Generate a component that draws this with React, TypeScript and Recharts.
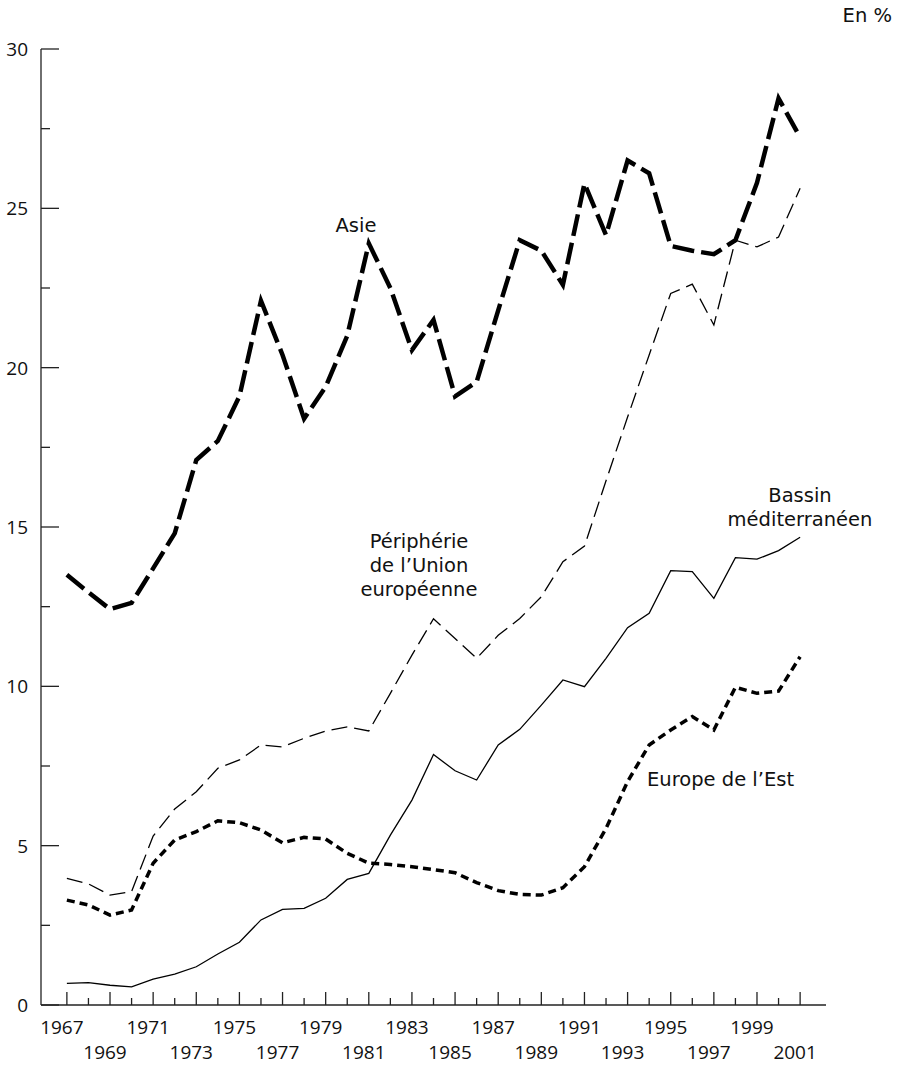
import React from 'react';
import { LineChart, Line, XAxis, YAxis } from 'recharts';

const years = [
  1967, 1968, 1969, 1970, 1971, 1972, 1973, 1974, 1975, 1976, 1977, 1978,
  1979, 1980, 1981, 1982, 1983, 1984, 1985, 1986, 1987, 1988, 1989, 1990,
  1991, 1992, 1993, 1994, 1995, 1996, 1997, 1998, 1999, 2000, 2001,
];

const asie = [
  13.5, 12.95, 12.42, 12.62, 13.7, 14.8, 17.1, 17.7, 19.1, 22.1, 20.4, 18.4,
  19.4, 21.0, 23.9, 22.5, 20.55, 21.5, 19.1, 19.55, 21.8, 24.0, 23.67, 22.6,
  25.78, 24.16, 26.5, 26.1, 23.82, 23.67, 23.56, 24.0, 25.8, 28.45, 27.23,
];

const peripherieUE = [
  3.97, 3.8, 3.45, 3.56, 5.3, 6.15, 6.69, 7.43, 7.69, 8.16, 8.1, 8.37,
  8.6, 8.73, 8.6, 9.78, 10.98, 12.12, 11.5, 10.88, 11.6, 12.13, 12.81, 13.91,
  14.4, 16.45, 18.45, 20.4, 22.33, 22.62, 21.34, 24.0, 23.79, 24.1, 25.63,
];

const bassinMed = [
  0.68, 0.7, 0.62, 0.57, 0.81, 0.97, 1.2, 1.6, 1.97, 2.67, 3.0, 3.03,
  3.35, 3.94, 4.13, 5.33, 6.43, 7.86, 7.35, 7.06, 8.16, 8.65, 9.41, 10.2,
  9.99, 10.88, 11.84, 12.29, 13.63, 13.6, 12.76, 14.04, 13.99, 14.26, 14.68,
];

const europeEst = [
  3.29, 3.14, 2.82, 2.98, 4.45, 5.18, 5.44, 5.78, 5.72, 5.49, 5.09, 5.26,
  5.21, 4.76, 4.45, 4.41, 4.34, 4.25, 4.15, 3.84, 3.59, 3.47, 3.45, 3.68,
  4.34, 5.54, 7.01, 8.16, 8.63, 9.05, 8.63, 9.97, 9.78, 9.85, 10.93,
];

const yTicks = [0, 2.5, 5, 7.5, 10, 12.5, 15, 17.5, 20, 22.5, 25, 27.5, 30];
const yLabelTicks = [0, 5, 10, 15, 20, 25, 30];
const xLabelYears = years.filter((y) => (y - 1967) % 2 === 0);

const unitLabel = 'En %';
const seriesLabels = {
  asie: ['Asie'],
  peripherie: ['Périphérie', 'de l\u2019Union', 'européenne'],
  bassin: ['Bassin', 'méditerranéen'],
  est: ['Europe de l\u2019Est'],
};

const data = years.map((year, i) => ({
  year,
  asie: asie[i],
  peripherie: peripherieUE[i],
  bassin: bassinMed[i],
  est: europeEst[i],
}));

const W = 905;
const H = 1067;
const M_TOP = 49;
const M_RIGHT = 79;
const Y_W = 41;
const X_H = 62;
const AXIS_X = Y_W;
const AXIS_Y = H - X_H;
const FONT = '"Open Sans", "Noto Sans", "DejaVu Sans", sans-serif';
const LABEL_FONT = '"DejaVu Sans", "Open Sans", sans-serif';
const AXIS_COLOR = '#222';
const INK = '#111';

const XTick = (props: any) => {
  const { x, payload } = props;
  const year = payload.value as number;
  const major = (year - 1967) % 2 === 0;
  const len = major ? 13 : 7;
  const showLabel = xLabelYears.includes(year);
  const row = (year - 1967) % 4 === 0 ? 0 : 1;
  return (
    <g>
      <line x1={x} x2={x} y1={AXIS_Y} y2={AXIS_Y - len} stroke={AXIS_COLOR} strokeWidth={1.3} />
      {showLabel && (
        <text
          x={x - 5}
          y={row === 0 ? AXIS_Y + 29 : AXIS_Y + 54}
          textAnchor="middle"
          fontSize={19}
          fontFamily={FONT}
          fill={INK}
        >
          {year}
        </text>
      )}
    </g>
  );
};

const YTick = (props: any) => {
  const { y, payload } = props;
  const v = payload.value as number;
  const major = yLabelTicks.includes(v);
  const len = major ? 18 : 9;
  return (
    <g>
      <line x1={AXIS_X} x2={AXIS_X + len} y1={y} y2={y} stroke={AXIS_COLOR} strokeWidth={1.3} />
      {major && (
        <text x={28} y={y + 7} textAnchor="end" fontSize={19} fontFamily={FONT} fill={INK}>
          {v}
        </text>
      )}
    </g>
  );
};

const labelStyle = { fontSize: 19.5, fontFamily: LABEL_FONT, fill: INK } as const;

const MultiLine = ({ lines, x, y, step }: { lines: string[]; x: number; y: number; step: number }) => (
  <g>
    {lines.map((t, i) => (
      <text key={t} x={x} y={y + i * step} textAnchor="middle" {...labelStyle}>
        {t}
      </text>
    ))}
  </g>
);

export default function App() {
  return (
    <div style={{ position: 'absolute', left: 0, top: 0, width: W, height: H, background: '#fff' }}>
      <LineChart
        width={W}
        height={H}
        data={data}
        margin={{ top: M_TOP, right: M_RIGHT, left: 0, bottom: 0 }}
      >
        <XAxis
          dataKey="year"
          type="number"
          domain={[1965.8, 2002.2]}
          ticks={years}
          interval={0}
          height={X_H}
          tickLine={false}
          axisLine={{ stroke: AXIS_COLOR, strokeWidth: 1.3 }}
          tick={<XTick />}
          allowDataOverflow
        />
        <YAxis
          type="number"
          domain={[0, 30]}
          ticks={yTicks}
          interval={0}
          width={Y_W}
          tickLine={false}
          axisLine={{ stroke: AXIS_COLOR, strokeWidth: 1.3 }}
          tick={<YTick />}
        />
        <Line
          dataKey="bassin"
          type="linear"
          stroke="#000"
          strokeWidth={1.3}
          dot={false}
          isAnimationActive={false}
        />
        <Line
          dataKey="peripherie"
          type="linear"
          stroke="#000"
          strokeWidth={1.3}
          strokeDasharray="16 7"
          dot={false}
          isAnimationActive={false}
        />
        <Line
          dataKey="est"
          type="linear"
          stroke="#000"
          strokeWidth={3.5}
          strokeDasharray="8 5"
          dot={false}
          isAnimationActive={false}
        />
        <Line
          dataKey="asie"
          type="linear"
          stroke="#000"
          strokeWidth={4.5}
          strokeDasharray="22 7"
          dot={false}
          isAnimationActive={false}
        />
      </LineChart>
      <svg
        width={W}
        height={H}
        style={{ position: 'absolute', left: 0, top: 0, pointerEvents: 'none' }}
      >
        <text x={892} y={22} textAnchor="end" {...labelStyle}>{unitLabel}</text>
        <text x={356} y={232} textAnchor="middle" {...labelStyle}>{seriesLabels.asie[0]}</text>
        <MultiLine lines={seriesLabels.peripherie} x={419} y={548} step={24} />
        <MultiLine lines={seriesLabels.bassin} x={800} y={502} step={24} />
        <text x={647} y={786} textAnchor="start" {...labelStyle}>{seriesLabels.est[0]}</text>
      </svg>
    </div>
  );
}
